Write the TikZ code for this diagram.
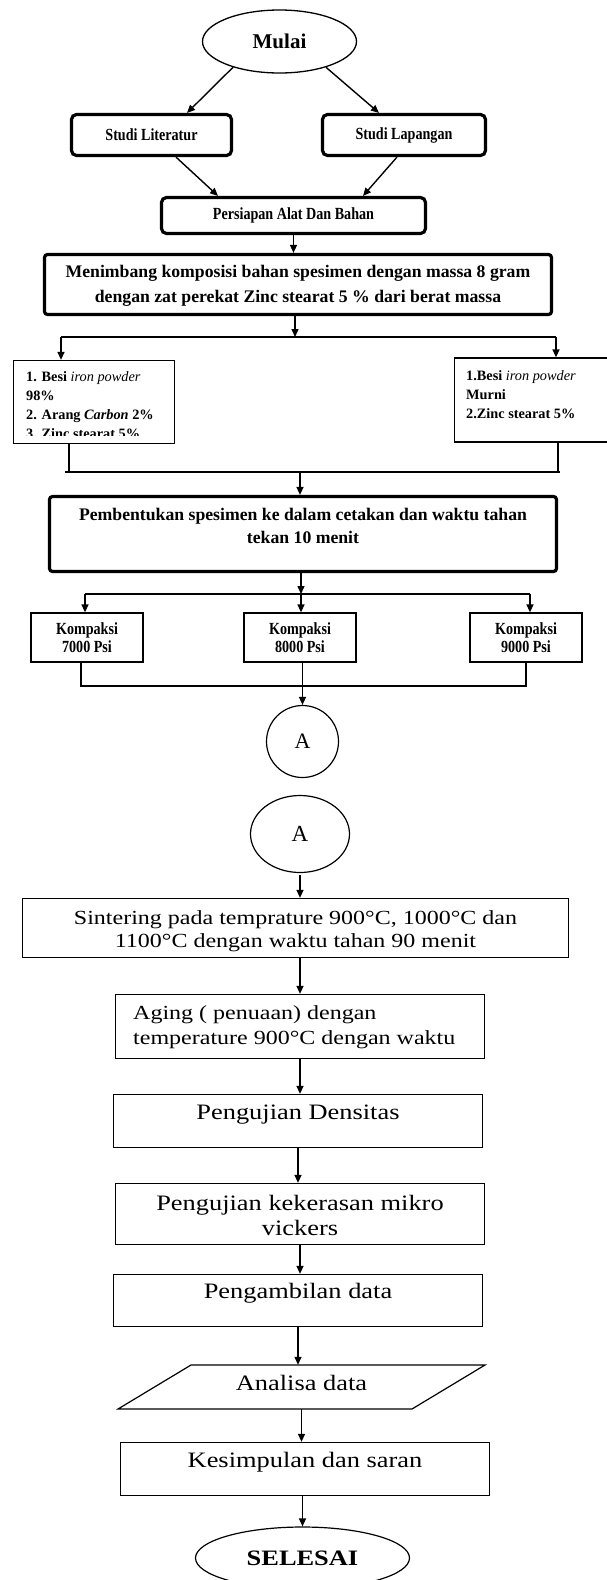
\documentclass[tikz,border=0pt]{standalone}
\usepackage{fontspec}
\setmainfont{Liberation Serif}
\newfontfamily\condf[FakeStretch=0.83]{Liberation Serif}
\newfontfamily\widef[FakeStretch=1.2]{Liberation Serif}
\usetikzlibrary{arrows.meta,calc,shapes.geometric}
\begin{document}
\begin{tikzpicture}[x=1pt,y=-1pt,
  thickbox/.style={draw, line width=3.2pt, rounded corners=5pt, inner sep=0pt},
  thinbox/.style={draw, line width=1.3pt, inner sep=0pt},
  arr/.style={line width=1.4pt, -{Triangle[length=8pt,width=7pt]}},
  ln/.style={line width=1.4pt},
  smallbold/.style={font=\condf\bfseries\fontsize{17}{18}\selectfont},
  bigbold/.style={font=\bfseries\fontsize{17.7}{25}\selectfont, align=center, inner sep=0pt},
  body/.style={font=\widef\fontsize{22}{25}\selectfont, inner sep=0pt},
  txt/.style={inner sep=0pt}]
\useasboundingbox (0,0) rectangle (606,1580);
\fill[white] (0,0) rectangle (606,1580);

% ---------- top part ----------
\node[ellipse, draw, line width=1.3pt, minimum width=154pt, minimum height=63pt, inner sep=0pt,
      font=\bfseries\fontsize{21}{24}\selectfont] (mulai) at (279.5,41.5) {Mulai};
\node[thickbox, smallbold, minimum width=160pt, minimum height=41pt] (lit) at (151.5,135) {Studi Literatur};
\node[thickbox, smallbold, minimum width=163pt, minimum height=41pt] (lap) at (404,135) {Studi Lapangan};
\node[thickbox, smallbold, minimum width=264pt, minimum height=36pt] (prep) at (293.5,215.5) {Persiapan Alat Dan Bahan};
\node[thickbox, rounded corners=3pt, minimum width=507pt, minimum height=60pt] (weigh) at (298,284.5) {};
\node[bigbold] (weighT) at (298,285.5) {Menimbang komposisi bahan spesimen dengan massa 8 gram\\dengan zat perekat Zinc stearat 5 \% dari berat massa};

\draw[arr] (mulai.209) -- ($(lit.north)+(35.5,0)$);
\draw[arr] (mulai.331) -- ($(lap.north)+(-25,0)$);
\draw[arr] ($(lit.south)+(24.5,0)$) -- ($(prep.north)+(-75.5,0)$);
\draw[arr] ($(lap.south)+(-7,0)$) -- ($(prep.north)+(69.5,0)$);
\draw[arr] (prep.south) -- (prep.south |- weigh.north);

% materials
\node[thinbox, minimum width=161pt, minimum height=83pt] (matL) at (94,402) {};
\begin{scope}
\clip (14,361) rectangle (174,435);
\node[txt, anchor=north west, align=left, font=\bfseries\fontsize{14.3}{19}\selectfont] (matLT) at (26,371)
  {1. Besi {\mdseries\itshape iron powder}\\98\%\\2. Arang \textit{Carbon} 2\%\\3. Zinc stearat 5\%};
\end{scope}
\node[thinbox, minimum width=170pt, minimum height=84pt, anchor=west] (matR) at (454,400) {};
\node[txt, anchor=north west, align=left, font=\bfseries\fontsize{14.3}{19}\selectfont] (matRT) at (466,370)
  {1.Besi {\mdseries\itshape iron powder}\\Murni\\2.Zinc stearat 5\%};

\coordinate (s1) at (295,337);
\coordinate (s1L) at (61,337);
\coordinate (s1R) at (556,337);
\draw[arr] (s1 |- weigh.south) -- (s1);
\draw[ln] (s1L) -- (s1R);
\draw[arr] (s1L) -- (s1L |- matL.north);
\draw[arr] (s1R) -- (s1R |- matR.north);

\coordinate (dL) at (69,472);
\coordinate (dR) at (558,472);
\coordinate (j1L) at (65,472);
\coordinate (j1R) at (560,472);
\coordinate (j1) at (300,472);
\draw[ln] (dL |- matL.south) -- (dL);
\draw[ln] (dR |- matR.south) -- (dR);
\draw[ln] (j1L) -- (j1R);

\node[thickbox, rounded corners=3pt, minimum width=507pt, minimum height=75pt] (form) at (303,534) {};
\node[bigbold, font=\bfseries\fontsize{17.7}{23}\selectfont] (formT) at (303,525.5)
  {Pembentukan spesimen ke dalam cetakan dan waktu tahan\\tekan 10 menit};
\draw[arr] (j1) -- (j1 |- form.north);

% compaction
\coordinate (s2) at (301,594);
\coordinate (s2L) at (85,594);
\coordinate (s2R) at (530,594);
\node[thinbox, smallbold, align=center, minimum width=112pt, minimum height=49pt] (k1) at (87,637.5) {Kompaksi\\7000 Psi};
\node[thinbox, smallbold, align=center, minimum width=112pt, minimum height=49pt] (k2) at (300,637.5) {Kompaksi\\8000 Psi};
\node[thinbox, smallbold, align=center, minimum width=112pt, minimum height=49pt] (k3) at (526,637.5) {Kompaksi\\9000 Psi};
\draw[arr] (form.south -| s2) -- (s2);
\draw[ln] (s2L) -- (s2R);
\draw[arr] (s2L) -- (s2L |- k1.north);
\draw[arr] (s2) -- (s2 |- k2.north);
\draw[arr] (s2R) -- (s2R |- k3.north);

\coordinate (j2L) at (81,686);
\coordinate (j2R) at (526,686);
\draw[ln] (j2L |- k1.south) -- (j2L) -- (j2R) -- (j2R |- k3.south);

\node[circle, draw, line width=1.2pt, minimum size=72pt, inner sep=0pt, font=\fontsize{22}{24}\selectfont] (A1) at (302.5,741.5) {A};
\draw[arr] (A1.north |- k2.south) -- (A1.north);

% ---------- bottom part ----------
\node[ellipse, draw, line width=1.2pt, minimum width=99pt, minimum height=77pt, inner sep=0pt, font=\fontsize{23}{24}\selectfont] (A2) at (300,834) {A};

\node[thinbox, minimum width=546pt, minimum height=59pt] (sint) at (295.5,928) {};
\node[body, font=\widef\fontsize{20}{23}\selectfont, align=center] (sintT) at (295.5,931.5)
  {Sintering pada temprature 900°C, 1000°C dan\\1100°C dengan waktu tahan 90 menit};

\node[thinbox, minimum width=369pt, minimum height=64pt] (aging) at (300,1026.5) {};
\node[body, font=\widef\fontsize{20}{25}\selectfont, align=left, anchor=west] (agingT) at (133,1027.5)
  {Aging ( penuaan) dengan\\temperature 900°C dengan waktu};

\node[thinbox, minimum width=369pt, minimum height=53pt] (dens) at (298,1121) {};
\node[body] (densT) at (298,1115) {Pengujian Densitas};

\node[thinbox, minimum width=369pt, minimum height=61pt] (vick) at (300,1214) {};
\node[body, align=center] (vickT) at (300,1215.5) {Pengujian kekerasan mikro\\vickers};

\node[thinbox, minimum width=369pt, minimum height=52pt] (ambil) at (298,1300.5) {};
\node[body] (ambilT) at (298,1293) {Pengambilan data};

\node[minimum width=294pt, minimum height=44pt, inner sep=0pt] (anal) at (301.5,1387) {};
\draw[line width=1.2pt] (191,1365) -- (485,1365) -- (412,1409) -- (118,1409) -- cycle;
\node[body] (analT) at (301.5,1383) {Analisa data};

\node[thinbox, minimum width=369pt, minimum height=53pt] (kes) at (305,1469) {};
\node[body] (kesT) at (305,1462) {Kesimpulan dan saran};

\node[ellipse, draw, line width=1.2pt, minimum width=214pt, minimum height=62pt, inner sep=0pt,
      font=\widef\bfseries\fontsize{22}{24}\selectfont] (sel) at (302.5,1558) {SELESAI};

\draw[arr] ($(A2.south)+(0,2)$) -- (A2.south |- sint.north);
\draw[arr] (sint.south -| aging.north) -- (aging.north);
\draw[arr] (aging.south) -- (aging.south |- dens.north);
\draw[arr] (dens.south) -- (dens.south |- vick.north);
\draw[arr] (vick.south) -- (vick.south |- ambil.north);
\draw[arr] (ambil.south) -- (ambil.south |- anal.north);
\draw[arr] (anal.south) -- (anal.south |- kes.north);
\draw[arr] (kes.south -| sel.north) -- (sel.north);
\end{tikzpicture}
\end{document}
